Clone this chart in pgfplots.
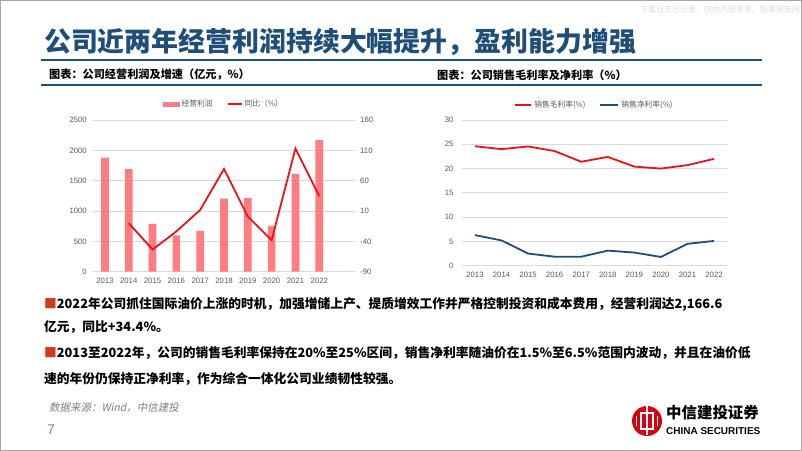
\documentclass[border=0pt]{standalone}
\usepackage{fontspec}
\setmainfont{Noto Sans CJK SC}
\newfontfamily\cjk{Noto Sans CJK SC}
\newfontfamily\cjkit{Noto Sans CJK SC}[FakeSlant=0.2]
\newfontfamily\arial{Liberation Sans}
\usepackage{pgfplots}
\pgfplotsset{compat=1.18}
\definecolor{titleblue}{HTML}{1F4E79}
\definecolor{barred}{HTML}{FF7C80}
\definecolor{linered}{HTML}{E8141B}
\definecolor{netblue}{HTML}{1F4E79}
\definecolor{tickgray}{HTML}{595959}
\definecolor{gridgray}{HTML}{D9D9D9}
\definecolor{framegray}{HTML}{A6A6A6}
\definecolor{wmgray}{HTML}{DDDDDD}
\definecolor{bulletred}{HTML}{D03A1E}
\definecolor{logored}{HTML}{D7000F}
\definecolor{srcgray}{HTML}{7F7F7F}
\pgfplotsset{
  slidebase/.style={
    scale only axis,
    axis line style={draw=none},
    major tick length=0pt,
    ticklabel style={font=\arial\fontsize{7.8}{8}\selectfont, text=tickgray},
    /pgf/number format/assume math mode=true,
    /pgf/number format/1000 sep={},
    clip=false,
  }
}
\begin{document}
\begin{tikzpicture}[x=1bp,y=1bp]
\useasboundingbox (0,0) rectangle (802,451);
\fill[white] (0,0) rectangle (802,451);
\draw[framegray, line width=1bp] (0.5,0.5) rectangle (801.5,450.5);
% watermark
\node[anchor=east, inner sep=0pt, text=wmgray, font=\cjk\fontsize{8}{8}\selectfont] at (800,441) {下载日志已记录，仅供内部参考，股票报告网};
% title
\node[anchor=west, inner sep=0pt, text=titleblue, font=\cjk\bfseries\fontsize{27}{27}\selectfont] at (44,409) {公司近两年经营利润持续大幅提升，盈利能力增强};
\draw[titleblue, line width=2.5bp] (41,391) -- (762,391);
\node[anchor=west, inner sep=0pt, font=\cjk\bfseries\fontsize{11.2}{12}\selectfont] at (49,376) {图表：公司经营利润及增速（亿元，\%）};
\node[anchor=west, inner sep=0pt, font=\cjk\bfseries\fontsize{11.2}{12}\selectfont] at (437,376) {图表：公司销售毛利率及净利率（\%）};
\draw[titleblue, line width=1.5bp] (41,366) -- (762,366);

% ---------- left chart: bars ----------
\begin{axis}[slidebase,
  at={(93bp,179.3bp)}, anchor=south west,
  width=262bp, height=151.7bp,
  xmin=-0.5, xmax=10.5, ymin=0, ymax=2500,
  ytick={0,500,1000,1500,2000,2500},
  xtick={0,1,2,3,4,5,6,7,8,9},
  xticklabels={2013,2014,2015,2016,2017,2018,2019,2020,2021,2022},
  ymajorgrids, grid style={gridgray, line width=0.75bp},
  yticklabel style={inner sep=0pt, xshift=-6bp},
  xticklabel style={inner sep=0pt, yshift=-6.3bp},
  ybar, bar width=7.7bp,
]
\addplot[fill=barred, draw=none] coordinates {
 (0,1879) (1,1692) (2,786) (3,600) (4,671) (5,1203) (6,1214) (7,753) (8,1612) (9,2166.6)};
\end{axis}
% ---------- left chart: growth line ----------
\begin{axis}[slidebase,
  at={(93bp,179.3bp)}, anchor=south west,
  width=262bp, height=151.7bp,
  xmin=-0.5, xmax=10.5, ymin=-90, ymax=160,
  hide x axis, axis y line*=right,
  ytick={-90,-40,10,60,110,160},
  yticklabels={-90,-40,10,60,110,160},
  yticklabel style={inner sep=0pt, xshift=5bp},
  legend style={at={(0.5,1)}, anchor=center, yshift=16bp, draw=none, fill=none,
    font=\cjk\fontsize{7.8}{8}\selectfont, text=tickgray,
    /tikz/every even column/.append style={column sep=12bp}},
  legend columns=2,
]
\addlegendimage{legend image code/.code={\fill[barred] (0bp,-2.2bp) rectangle (16bp,2.2bp);}}
\addlegendentry{经营利润}
\addplot[linered, line width=1.8bp,
  legend image code/.code={\draw[linered, line width=1.8bp] (0bp,0bp) -- (14bp,0bp);}]
 coordinates {(1,-10.0) (2,-53.5) (3,-23.7) (4,11.8) (5,79.3) (6,0.9) (7,-38.0) (8,113.1) (9,34.4)};
\addlegendentry{同比（\%）}
\end{axis}

% ---------- right chart ----------
\begin{axis}[slidebase,
  at={(461.7bp,185.3bp)}, anchor=south west,
  width=265.6bp, height=145.7bp,
  xmin=-0.5, xmax=9.5, ymin=0, ymax=30,
  ytick={0,5,10,15,20,25,30},
  xtick={0,1,2,3,4,5,6,7,8,9},
  xticklabels={2013,2014,2015,2016,2017,2018,2019,2020,2021,2022},
  ymajorgrids, grid style={gridgray, line width=0.75bp},
  yticklabel style={inner sep=0pt, xshift=-8bp},
  xticklabel style={inner sep=0pt, yshift=-6.5bp},
  legend style={at={(0.5,1)}, anchor=center, yshift=15bp, draw=none, fill=none,
    font=\cjk\fontsize{7.8}{8}\selectfont, text=tickgray,
    /tikz/every even column/.append style={column sep=12bp}},
  legend columns=2,
]
\addplot[linered, line width=1.8bp,
  legend image code/.code={\draw[linered, line width=1.8bp] (0bp,0bp) -- (16bp,0bp);}]
 coordinates {(0,24.6) (1,24.0) (2,24.55) (3,23.6) (4,21.4) (5,22.4) (6,20.4) (7,20.0) (8,20.7) (9,22.0)};
\addlegendentry{销售毛利率(\%)}
\addplot[netblue, line width=1.8bp,
  legend image code/.code={\draw[netblue, line width=1.8bp] (0bp,0bp) -- (18bp,0bp);}]
 coordinates {(0,6.3) (1,5.2) (2,2.5) (3,1.85) (4,1.85) (5,3.1) (6,2.7) (7,1.8) (8,4.5) (9,5.1)};
\addlegendentry{销售净利率(\%)}
\end{axis}

% ---------- text ----------
\begin{scope}[every node/.style={anchor=west, inner sep=0pt, font=\cjk\bfseries\fontsize{12.8}{14}\selectfont}]
\node at (44,147) {{\color{bulletred}■}2022年公司抓住国际油价上涨的时机，加强增储上产、提质增效工作并严格控制投资和成本费用，经营利润达2,166.6};
\node at (44,124) {亿元，同比+34.4\%。};
\node at (44,98) {{\color{bulletred}■}2013至2022年，公司的销售毛利率保持在20\%至25\%区间，销售净利率随油价在1.5\%至6.5\%范围内波动，并且在油价低};
\node at (44,72) {速的年份仍保持正净利率，作为综合一体化公司业绩韧性较强。};
\end{scope}
\node[anchor=west, inner sep=0pt, text=srcgray, font=\cjkit\fontsize{10.5}{11}\selectfont] at (49,43) {数据来源：Wind，中信建投};
\node[anchor=west, inner sep=0pt, text=srcgray, font=\arial\fontsize{14}{14}\selectfont] at (47,21) {7};

% ---------- logo ----------
\fill[logored] (647,30) circle (15);
\draw[white, line width=1.5bp] (641,22) rectangle (653,38);
\draw[white, line width=1.5bp] (647,15.5) -- (647,44.5);
\draw[white, line width=1.2bp] (636.5,25) -- (636.5,35);
\draw[white, line width=1.2bp] (657.5,25) -- (657.5,35);
\node[anchor=west, inner sep=0pt, font=\cjk\bfseries\fontsize{15.5}{16}\selectfont] at (666,38) {中信建投证券};
\node[anchor=west, inner sep=0pt, font=\arial\bfseries\fontsize{10}{10}\selectfont] at (666,20) {CHINA SECURITIES};
\end{tikzpicture}
\end{document}
